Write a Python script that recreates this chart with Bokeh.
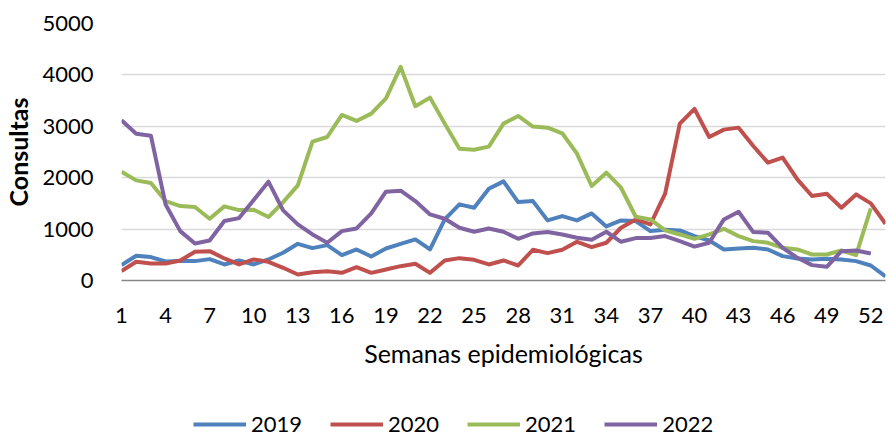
from bokeh.plotting import figure
from bokeh.models import Range1d, FixedTicker, Legend, LegendItem, ColumnDataSource
from bokeh.layouts import column
from bokeh.embed import file_html
from bokeh.resources import INLINE

weeks = list(range(1, 54))
years = ["2019", "2020", "2021", "2022"]
colors = ["#4F81BD", "#C0504D", "#9BBB59", "#8064A2"]

v2019 = [299, 481, 455, 370, 377, 377, 416, 312, 390, 312,
         409, 539, 714, 630, 688, 494, 604, 468, 623, 714,
         799, 604, 1188, 1481, 1416, 1786, 1929, 1526, 1545, 1169,
         1253, 1169, 1305, 1052, 1169, 1156, 961, 987, 974, 864,
         779, 604, 623, 636, 604, 474, 429, 409, 422, 409,
         377, 292, 78]
v2020 = [182, 364, 331, 331, 390, 558, 571, 429, 312, 409,
         364, 247, 117, 162, 182, 149, 260, 149, 214, 279,
         325, 149, 390, 435, 403, 312, 390, 292, 597, 532,
         597, 753, 649, 734, 1026, 1188, 1091, 1688, 3052, 3340,
         2792, 2935, 2974, 2617, 2292, 2390, 1968, 1643, 1688, 1416,
         1675, 1500, 1104]
v2021 = [2117, 1948, 1896, 1545, 1448, 1429, 1201, 1442, 1370, 1377,
         1234, 1526, 1851, 2700, 2792, 3221, 3104, 3247, 3545, 4156,
         3390, 3558, 3052, 2565, 2545, 2604, 3052, 3201, 2994, 2974,
         2864, 2468, 1838, 2097, 1805, 1240, 1188, 974, 896, 810,
         896, 1006, 864, 766, 734, 636, 604, 506, 506, 584,
         494, 1403]
v2022 = [3117, 2857, 2818, 1480, 961, 720, 779, 1156, 1214, 1565,
         1922, 1364, 1091, 896, 734, 961, 1013, 1305, 1727, 1747,
         1545, 1286, 1201, 1026, 948, 1013, 948, 812, 916, 942,
         896, 831, 792, 948, 753, 825, 825, 864, 766, 660,
         734, 1188, 1338, 942, 929, 636, 442, 299, 266, 571,
         584, 526]

x_ticks = list(range(1, 54, 3))
y_ticks = [0, 1000, 2000, 3000, 4000, 5000]

FONT = "Lato"
W = 888

p = figure(width=W, height=388, output_backend="svg", toolbar_location=None,
           x_range=Range1d(1, 53), y_range=Range1d(0, 5000),
           min_border_left=121, min_border_right=3, min_border_top=23,
           min_border_bottom=108)
p.outline_line_color = None
p.background_fill_color = "white"
p.border_fill_color = "white"

p.xgrid.grid_line_color = None
p.ygrid.grid_line_color = "#D9D9D9"
p.ygrid.grid_line_width = 1.5
p.ygrid.ticker = FixedTicker(ticks=y_ticks)

p.xaxis.ticker = FixedTicker(ticks=x_ticks)
p.yaxis.ticker = FixedTicker(ticks=y_ticks)

for ax in (p.xaxis[0], p.yaxis[0]):
    ax.major_tick_line_color = None
    ax.minor_tick_line_color = None
    ax.major_tick_out = 0
    ax.major_tick_in = 0
    ax.major_label_text_font = FONT
    ax.major_label_text_font_size = "22px"
    ax.major_label_text_color = "#000000"
    ax.axis_label_text_font = FONT
    ax.axis_label_text_color = "#000000"
    ax.axis_label_text_font_size = "25px"

p.xaxis.axis_line_color = "#868686"
p.xaxis.axis_line_width = 1.5
p.xaxis.major_label_standoff = 27
p.xaxis.axis_label = "Semanas epidemiológicas"
p.xaxis.axis_label_text_font_style = "normal"
p.xaxis.axis_label_standoff = 12

p.yaxis.axis_line_color = None
p.yaxis.major_label_standoff = 28
p.yaxis.axis_label = "Consultas"
p.yaxis.axis_label_text_font_style = "bold"
p.yaxis.axis_label_standoff = 6

series = [v2019, v2020, v2021, v2022]
sources = []
for name, vals, col in zip(years, series, colors):
    src = ColumnDataSource(dict(x=weeks[:len(vals)], y=vals))
    sources.append(src)
    p.line("x", "y", source=src, line_color=col, line_width=4, line_join="round")

# legend strip below the chart (its ranges keep the data lines out of view)
lg = figure(width=W, height=50, output_backend="svg", toolbar_location=None,
            x_range=Range1d(1, 53), y_range=Range1d(-2, -1),
            min_border_left=121, min_border_right=3, min_border_top=0,
            min_border_bottom=0, x_axis_location=None, y_axis_location=None)
lg.outline_line_color = None
lg.xgrid.grid_line_color = None
lg.ygrid.grid_line_color = None
lg.border_fill_color = "white"
lg.background_fill_color = "white"

items = []
for name, src, col in zip(years, sources, colors):
    r = lg.line("x", "y", source=src, line_color=col, line_width=4)
    items.append(LegendItem(label=name, renderers=[r]))

legend = Legend(items=items, orientation="horizontal", location=(72, 1),
                glyph_width=53, glyph_height=20, label_standoff=5, spacing=28,
                padding=0, margin=0, border_line_color=None,
                background_fill_alpha=0, label_text_font=FONT,
                label_text_font_size="22px", label_text_line_height=1.0,
                label_height=20, label_text_color="#000000")
lg.add_layout(legend, "center")

layout = column(p, lg, spacing=0)
open("out.html", "w").write(file_html(layout, INLINE))
